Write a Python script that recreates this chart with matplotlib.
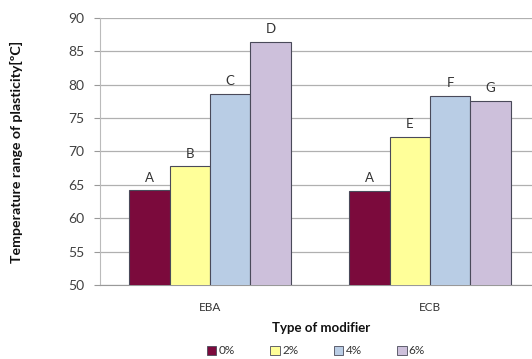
import matplotlib
matplotlib.use("Agg")
import matplotlib.pyplot as plt
import numpy as np
from matplotlib.patches import Patch

categories = ["EBA", "ECB"]
series_names = ["0%", "2%", "4%", "6%"]
values = {
    "0%": [64.2, 64.1],
    "2%": [67.8, 72.2],
    "4%": [78.6, 78.3],
    "6%": [86.4, 77.6],
}
bar_letters = {
    "0%": ["A", "A"],
    "2%": ["B", "E"],
    "4%": ["C", "F"],
    "6%": ["D", "G"],
}
colors = ["#7b0a3c", "#ffff99", "#b9cde5", "#cdc0db"]
yticks = [50, 55, 60, 65, 70, 75, 80, 85, 90]

plt.rcParams['font.family'] = ['Lato', 'DejaVu Sans']

fig = plt.figure(figsize=(5.32, 3.59), dpi=100)
ax = fig.add_axes([100/532, 74/359, 440/532, 267/359])

x = np.arange(len(categories))
w = 0.183
for i, name in enumerate(series_names):
    pos = x + (i - 1.5) * w
    ax.bar(pos, values[name], w, bottom=0, color=colors[i],
           edgecolor="#4a4a5a", linewidth=0.8, zorder=3)
    for xp, v, lab in zip(pos, values[name], bar_letters[name]):
        ax.text(xp, v + 1.0, lab, ha="center", va="bottom", fontsize=9.5,
                color="#333333", zorder=4)

ax.set_ylim(50, 90)
ax.set_xlim(-0.5, 1.5)
ax.set_yticks(yticks)
ax.set_xticks(x)
ax.set_xticklabels(categories, fontsize=8.5, color="#333333")
ax.tick_params(axis="x", length=0, pad=12)
ax.tick_params(axis="y", length=4, color="#999999", labelsize=10,
               labelcolor="#404040", pad=7)
ax.yaxis.grid(True, color="#b0b0b0", linewidth=0.9, zorder=0)
for s in ["top", "right"]:
    ax.spines[s].set_visible(False)
ax.spines["left"].set_color("#bbbbbb")
ax.spines["bottom"].set_color("#999999")

ax.set_ylabel("Temperature range of plasticity[ºC]", fontsize=10.2,
              fontweight="bold", color="#111111")
ax.yaxis.set_label_coords(-0.175, 0.5)
fig.text(321/532, 1 - 328/359, "Type of modifier", ha="center", va="center",
         fontsize=9.5, fontweight="bold", color="#111111")

handles = [Patch(facecolor=c, edgecolor="#4a4a5a", linewidth=0.6) for c in colors]
fig.legend(handles, series_names, loc="center", bbox_to_anchor=(316/532, 1 - 351/359),
           ncol=4, frameon=False, fontsize=8.5, handlelength=0.8, handleheight=0.8,
           handletextpad=0.2, columnspacing=3.0, labelcolor="#333333")

fig.savefig("out.png", dpi=100)
